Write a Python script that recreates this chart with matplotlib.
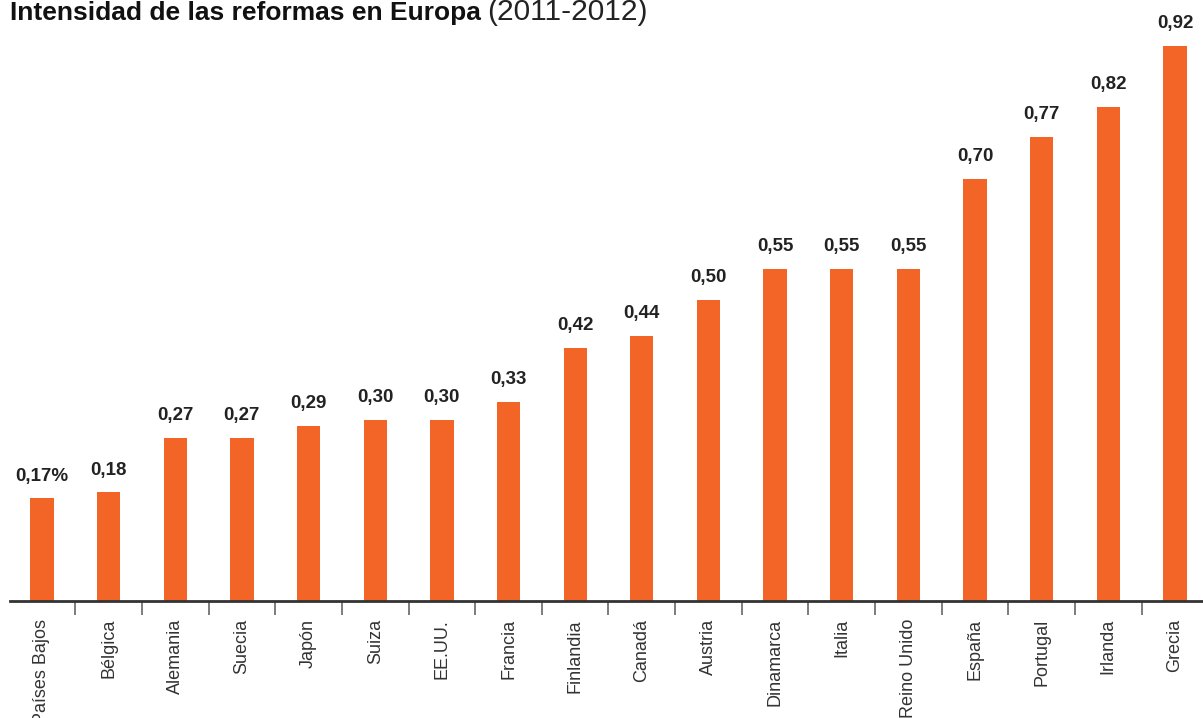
import numpy as np
import matplotlib.pyplot as plt
from matplotlib.ticker import FixedLocator

plt.rcParams['font.family'] = ['Liberation Sans Narrow', 'Liberation Sans', 'DejaVu Sans']

paises = ["Países Bajos", "Bélgica", "Alemania", "Suecia", "Japón", "Suiza",
          "EE.UU.", "Francia", "Finlandia", "Canadá", "Austria", "Dinamarca",
          "Italia", "Reino Unido", "España", "Portugal", "Irlanda", "Grecia"]
valores = [0.17, 0.18, 0.27, 0.27, 0.29, 0.30, 0.30, 0.33, 0.42, 0.44,
           0.50, 0.55, 0.55, 0.55, 0.70, 0.77, 0.82, 0.92]
etiquetas = ["0,17%", "0,18", "0,27", "0,27", "0,29", "0,30", "0,30", "0,33",
             "0,42", "0,44", "0,50", "0,55", "0,55", "0,55", "0,70", "0,77",
             "0,82", "0,92"]

naranja = "#F26527"

fig = plt.figure(figsize=(12.03, 7.18), dpi=100)
ax = fig.add_axes([10 / 1203, 117 / 718, 1193 / 1203, 601 / 718])

x = np.arange(len(paises))
bars = ax.bar(x, valores, width=0.35, color=naranja, zorder=2)

for xi, v, t in zip(x, valores, etiquetas):
    ax.annotate(t, (xi, v), xytext=(0, 10), textcoords="offset points",
                ha="center", va="bottom", fontsize=13.5, fontweight="bold",
                color="#222222", annotation_clip=False)

ax.set_xlim(-0.48, 17.42)
ax.set_ylim(0, 601 / 603)

for s in ["top", "right", "left"]:
    ax.spines[s].set_visible(False)
ax.spines["bottom"].set_linewidth(2)
ax.spines["bottom"].set_color("#333333")
ax.spines["bottom"].set_zorder(3)

ax.set_yticks([])
ax.set_xticks(x)
ax.set_xticklabels(paises, rotation=90, fontsize=13, color="#333333")
ax.tick_params(axis="x", which="major", length=0, pad=13)
ax.xaxis.set_minor_locator(FixedLocator(x[:-1] + 0.5))
ax.tick_params(axis="x", which="minor", length=10, width=1.2, color="#666666")

y_titulo = 1 - 20 / 718
fig.text(10 / 1203, y_titulo, "Intensidad de las reformas en Europa", fontsize=19,
         fontweight="bold", color="#111111", ha="left", va="baseline")
fig.text(487 / 1203, y_titulo, "(2011-2012)", fontsize=21.5,
         color="#222222", ha="left", va="baseline")

fig.savefig("out.png", dpi=100)
